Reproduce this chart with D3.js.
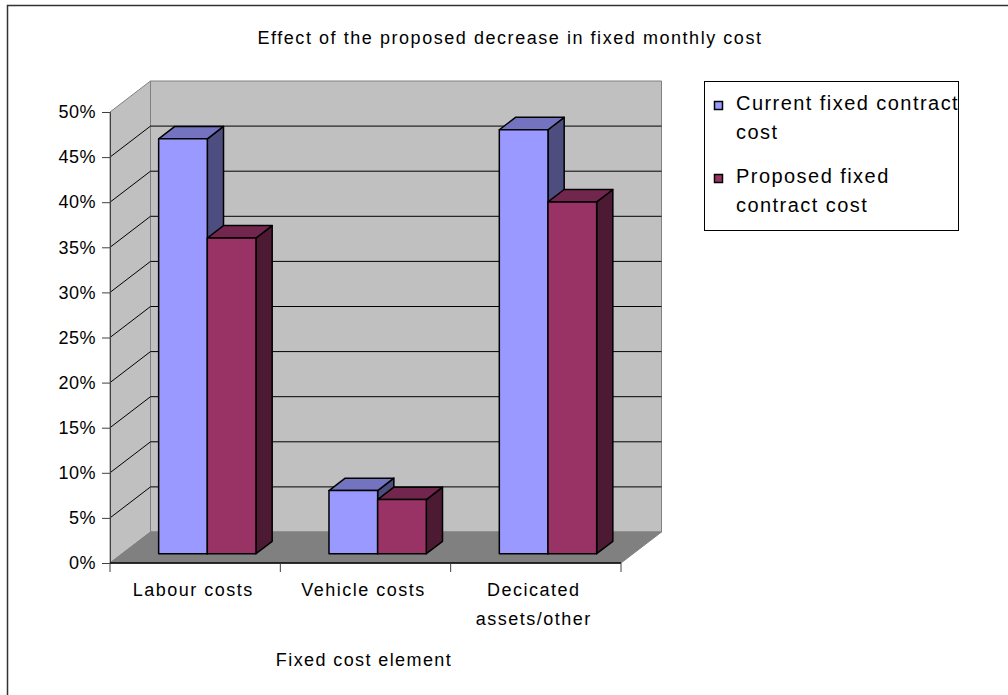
<!DOCTYPE html>
<html>
<head>
<meta charset="utf-8">
<script src="https://cdn.jsdelivr.net/npm/d3@7"></script>
<style>
  html, body { margin: 0; padding: 0; background: #fff; }
  svg { display: block; font-family: "Liberation Sans", Arial, sans-serif; }
</style>
</head>
<body>
<svg id="chart" width="1008" height="695"></svg>
<script>
// Chart data
const categories = ["Labour costs", "Vehicle costs", "Decicated\nassets/other"];
const seriesNames = ["Current fixed contract cost", "Proposed fixed contract cost"];
const currentValues = [0.46, 0.07, 0.47];
const proposedValues = [0.35, 0.06, 0.39];
const yTicks = [0, 0.05, 0.10, 0.15, 0.20, 0.25, 0.30, 0.35, 0.40, 0.45, 0.50];
const titleText = "Effect of the proposed decrease in fixed monthly cost";
const xAxisTitle = "Fixed cost element";
const legendLines = [["Current fixed contract", "cost"], ["Proposed fixed", "contract cost"]];

const seriesValues = [currentValues, proposedValues];
const faceColors = [
  { front: "#9999FF", top: "#7373BF", side: "#4D4D80" },
  { front: "#993366", top: "#73264D", side: "#4D1A33" }
];

const svg = d3.select("#chart");

// Outer chart border
svg.append("rect")
  .attr("x", 7.5).attr("y", 5.5).attr("width", 1100).attr("height", 800)
  .attr("fill", "none").attr("stroke", "#333").attr("stroke-width", 1.5);

// Front plane scales; depth is projected as an oblique offset
const x = d3.scaleBand().domain(categories).range([110, 621]).padding(0);
const y = d3.scaleLinear().domain([0, 0.5]).range([563, 112]);
const DX = 40.5, DY = -31;
const P = (px, py, f) => [px + f * DX, py + f * DY];
const poly = pts => pts.map(p => p.join(",")).join(" ");

// Left side wall
svg.append("polygon")
  .attr("points", poly([P(110, y(0), 0), P(110, y(0.5), 0), P(110, y(0.5), 1), P(110, y(0), 1)]))
  .attr("fill", "#C0C0C0").attr("stroke", "#808080");

// Back wall
const xL = x.range()[0], xR = x.range()[1];
svg.append("polygon")
  .attr("points", poly([P(xL, y(0), 1), P(xL, y(0.5), 1), P(xR, y(0.5), 1), P(xR, y(0), 1)]))
  .attr("fill", "#C0C0C0").attr("stroke", "#808080");

// Floor
svg.append("polygon")
  .attr("points", poly([P(xL, y(0), 0), P(xR, y(0), 0), P(xR, y(0), 1), P(xL, y(0), 1)]))
  .attr("fill", "#808080").attr("stroke", "#808080");

// Gridlines on the back and side walls
const grid = svg.append("g");
yTicks.filter(t => t > 0 && t < 0.5).forEach(t => {
  const a = P(xL, y(t), 0), b = P(xL, y(t), 1), c = P(xR, y(t), 1);
  grid.append("polyline")
    .attr("points", poly([a, b, c]))
    .attr("fill", "none").attr("stroke", "#000").attr("stroke-width", 1);
});

// Bars: two series per category, sitting mid-depth
const inner = d3.scaleBand().domain(d3.range(2)).range([0, x.bandwidth()])
  .paddingInner(0).paddingOuter(0.75);
const f0 = 0.3, f1 = 0.7;
const bars = svg.append("g");
categories.forEach((cat, ci) => {
  [0, 1].forEach(si => {
    const v = seriesValues[si][ci];
    const x0 = x(cat) + inner(si), x1 = x0 + inner.bandwidth();
    const yt = y(v), yb = y(0);
    const col = faceColors[si];
    const g = bars.append("g").attr("stroke", "#000").attr("stroke-width", 1.5)
      .attr("stroke-linejoin", "round");
    // side face
    g.append("polygon")
      .attr("points", poly([P(x1, yt, f0), P(x1, yt, f1), P(x1, yb, f1), P(x1, yb, f0)]))
      .attr("fill", col.side);
    // top face
    g.append("polygon")
      .attr("points", poly([P(x0, yt, f0), P(x0, yt, f1), P(x1, yt, f1), P(x1, yt, f0)]))
      .attr("fill", col.top);
    // front face
    g.append("polygon")
      .attr("points", poly([P(x0, yt, f0), P(x1, yt, f0), P(x1, yb, f0), P(x0, yb, f0)]))
      .attr("fill", col.front);
  });
});

// Value axis
const yAxis = d3.axisLeft(y).tickValues(yTicks).tickFormat(d3.format(".0%"))
  .tickSize(8).tickPadding(6);
const ya = svg.append("g").attr("transform", "translate(110,0)").call(yAxis);
ya.select(".domain").attr("stroke", "#404040");
ya.selectAll(".tick line").attr("stroke", "#404040");
ya.selectAll(".tick text").attr("font-size", 18).attr("fill", "#000")
  .attr("font-family", "Liberation Sans, Arial, sans-serif").attr("letter-spacing", 0.5);

// Category axis
const xa = svg.append("g").attr("transform", `translate(0,${y(0)})`);
xa.append("line").attr("x1", xL).attr("x2", xR).attr("y1", 0).attr("y2", 0)
  .attr("stroke", "#000").attr("stroke-width", 1.5);
const edges = categories.map(c => x(c)).concat([xR]);
edges.forEach(ex => {
  xa.append("line").attr("x1", ex).attr("x2", ex).attr("y1", 0).attr("y2", 9)
    .attr("stroke", "#404040");
});
categories.forEach(cat => {
  const lines = cat.split("\n");
  const t = svg.append("text")
    .attr("x", x(cat) + x.bandwidth() / 2).attr("y", 596)
    .attr("text-anchor", "middle").attr("font-size", 18).attr("letter-spacing", 1.5)
    .attr("fill", "#000");
  lines.forEach((ln, i) => {
    t.append("tspan").attr("x", x(cat) + x.bandwidth() / 2 - 2).attr("dy", i === 0 ? 0 : 29).text(ln);
  });
});

// Axis title
svg.append("text").attr("x", 364).attr("y", 666).attr("text-anchor", "middle")
  .attr("font-size", 18).attr("letter-spacing", 1.4).text(xAxisTitle);

// Chart title
svg.append("text").attr("x", 510).attr("y", 44).attr("text-anchor", "middle")
  .attr("font-size", 18).attr("letter-spacing", 1.55).text(titleText);

// Legend
const lg = svg.append("g");
lg.append("rect").attr("x", 704.5).attr("y", 81.5).attr("width", 254).attr("height", 149)
  .attr("fill", "#fff").attr("stroke", "#000").attr("stroke-width", 1);
const legendBaselines = [[110, 139], [183, 212]];
seriesNames.forEach((name, i) => {
  lg.append("rect").attr("x", 714.5).attr("y", legendBaselines[i][0] - 8.5)
    .attr("width", 8).attr("height", 8)
    .attr("fill", faceColors[i].front).attr("stroke", "#000").attr("stroke-width", 1.5);
  legendLines[i].forEach((ln, j) => {
    lg.append("text").attr("x", 736).attr("y", legendBaselines[i][j])
      .attr("font-size", 20).attr("letter-spacing", 1.45).text(ln);
  });
});
</script>
</body>
</html>
